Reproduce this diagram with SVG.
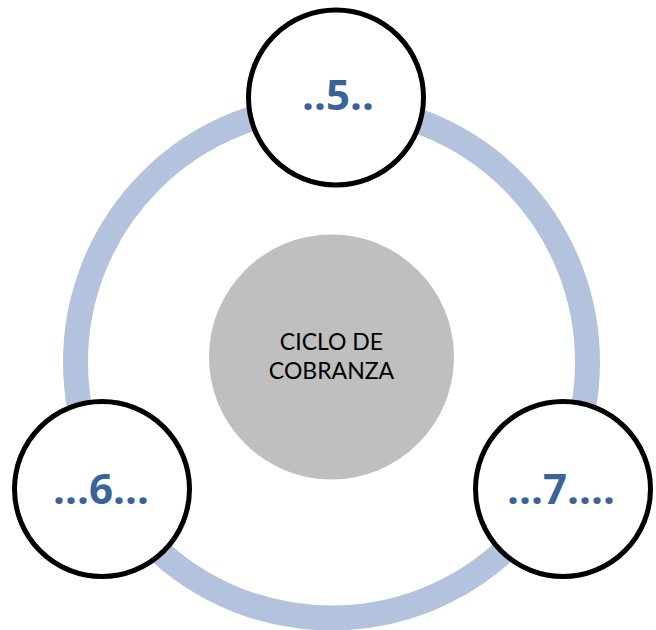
<svg xmlns="http://www.w3.org/2000/svg" width="656" height="630" viewBox="0 0 656 630">
  <style>
    .ring { fill: none; stroke: #B3C3DD; stroke-width: 25; }
    .node { fill: #FFFFFF; stroke: #000000; stroke-width: 5; }
    .hub { fill: #BFBFBF; stroke: none; }
    .num { font-family: "Open Sans", "DejaVu Sans", sans-serif; font-weight: bold; font-size: 42px; fill: #3A6499; text-anchor: middle; }
    .hubtxt { font-family: Lato, "Open Sans", sans-serif; font-size: 23px; fill: #000000; text-anchor: middle; }
  </style>
  <rect width="656" height="630" fill="#FFFFFF"/>
  <g id="connectors">
    <circle class="ring" cx="331.5" cy="362" r="256"/>
  </g>
  <g id="hub">
    <circle class="hub" cx="331.5" cy="357" r="122.5"/>
    <text class="hubtxt" x="331.5" y="350">CICLO DE</text>
    <text class="hubtxt" x="331.5" y="378.5">COBRANZA</text>
  </g>
  <g id="node5">
    <circle class="node" cx="336" cy="97.5" r="87.5"/>
    <text class="num" x="338" y="110">..5..</text>
  </g>
  <g id="node6">
    <circle class="node" cx="102" cy="489" r="87.5"/>
    <text class="num" x="101" y="504">...6...</text>
  </g>
  <g id="node7">
    <circle class="node" cx="563" cy="489" r="87.5"/>
    <text class="num" x="561" y="504">...7....</text>
  </g>
</svg>
